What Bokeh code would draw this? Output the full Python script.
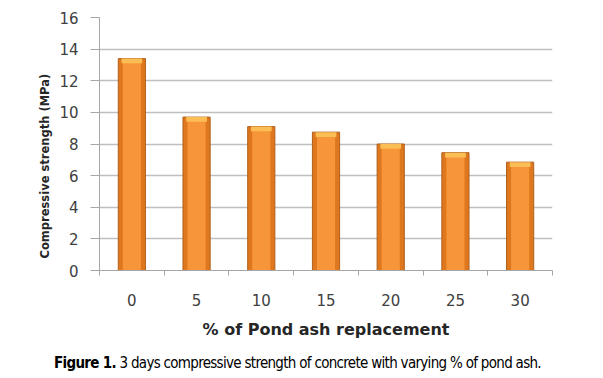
from bokeh.plotting import figure
from bokeh.models import FixedTicker, ColumnDataSource, Range1d, Div, Title
from bokeh.layouts import column
from bokeh.embed import file_html
from bokeh.resources import INLINE

categories = ["0", "5", "10", "15", "20", "25", "30"]
strength = [13.4, 9.7, 9.1, 8.75, 8.0, 7.45, 6.85]
y_ticks = [0, 2, 4, 6, 8, 10, 12, 14, 16]

xc = [i + 0.5 for i in range(len(categories))]
src = ColumnDataSource(dict(
    x=xc, top=strength,
    inner_top=[v - 0.08 for v in strength],
    cap_bottom=[v - 0.3 for v in strength],
))

p = figure(width=595, height=345, output_backend="svg", toolbar_location=None,
           x_range=Range1d(0, len(categories)), y_range=Range1d(0, 16),
           min_border_left=99, min_border_right=43, min_border_top=17, min_border_bottom=75)
p.outline_line_color = None
p.background_fill_color = "white"

# bars
p.vbar(x="x", top="top", bottom=0, width=0.42, source=src,
       fill_color="#DE771D", line_color="#B0601C", line_width=1)
p.vbar(x="x", top="inner_top", bottom=0, width=0.28, source=src,
       fill_color="#F7953A", line_color=None)
p.vbar(x="x", top="top", bottom="cap_bottom", width=0.32, source=src,
       fill_color="#FBBE55", line_color=None)

# x axis
p.xaxis.ticker = FixedTicker(ticks=xc, minor_ticks=list(range(len(categories) + 1)))
p.xaxis.major_label_overrides = {x: c for x, c in zip(xc, categories)}
p.xaxis.major_tick_line_color = None
p.xaxis.minor_tick_line_color = "#A6A6A6"
p.xaxis.minor_tick_out = 5
p.xaxis.minor_tick_in = 0
p.xaxis.axis_line_color = "#A6A6A6"
p.xaxis.major_label_standoff = 17
p.xaxis.major_label_text_font = "DejaVu Sans"
p.xaxis.major_label_text_font_size = "15px"
p.xaxis.major_label_text_color = "#404040"
p.xaxis.axis_label = "% of Pond ash replacement"
p.xaxis.axis_label_text_font = "DejaVu Sans"
p.xaxis.axis_label_text_font_style = "bold"
p.xaxis.axis_label_text_font_size = "16px"
p.xaxis.axis_label_text_color = "#262626"
p.xaxis.axis_label_standoff = 11

# y axis
p.yaxis.ticker = FixedTicker(ticks=y_ticks)
p.yaxis.minor_tick_line_color = None
p.yaxis.major_tick_out = 9
p.yaxis.major_tick_in = 0
p.yaxis.major_tick_line_color = "#A6A6A6"
p.yaxis.axis_line_color = "#A6A6A6"
p.yaxis.major_label_standoff = 12
p.yaxis.major_label_text_font = "DejaVu Sans"
p.yaxis.major_label_text_font_size = "15px"
p.yaxis.major_label_text_color = "#404040"

ytitle = Title(text="Compressive strength (MPa)", align="left", offset=12, standoff=10,
               text_font="DejaVu Sans", text_font_style="bold", text_font_size="11.5px",
               text_color="#262626")
p.add_layout(ytitle, "left")

p.xgrid.grid_line_color = None
p.ygrid.grid_line_color = "#BFBFBF"
p.ygrid.grid_line_width = 1.5

caption = Div(
    text=("<div style='width:585px; text-align:center; white-space:nowrap; "
          "font-family:\"DejaVu Sans Condensed\", \"DejaVu Sans\", sans-serif; "
          "font-stretch:condensed; font-size:15px; letter-spacing:-0.7px; color:#000;'>"
          "<b>Figure 1.</b> 3 days compressive strength of concrete with varying % of pond ash.</div>"),
    width=595, height=25,
    styles={"margin-top": "8px"},
)

layout = column(p, caption, spacing=0)
open("out.html", "w").write(file_html(layout, INLINE))
